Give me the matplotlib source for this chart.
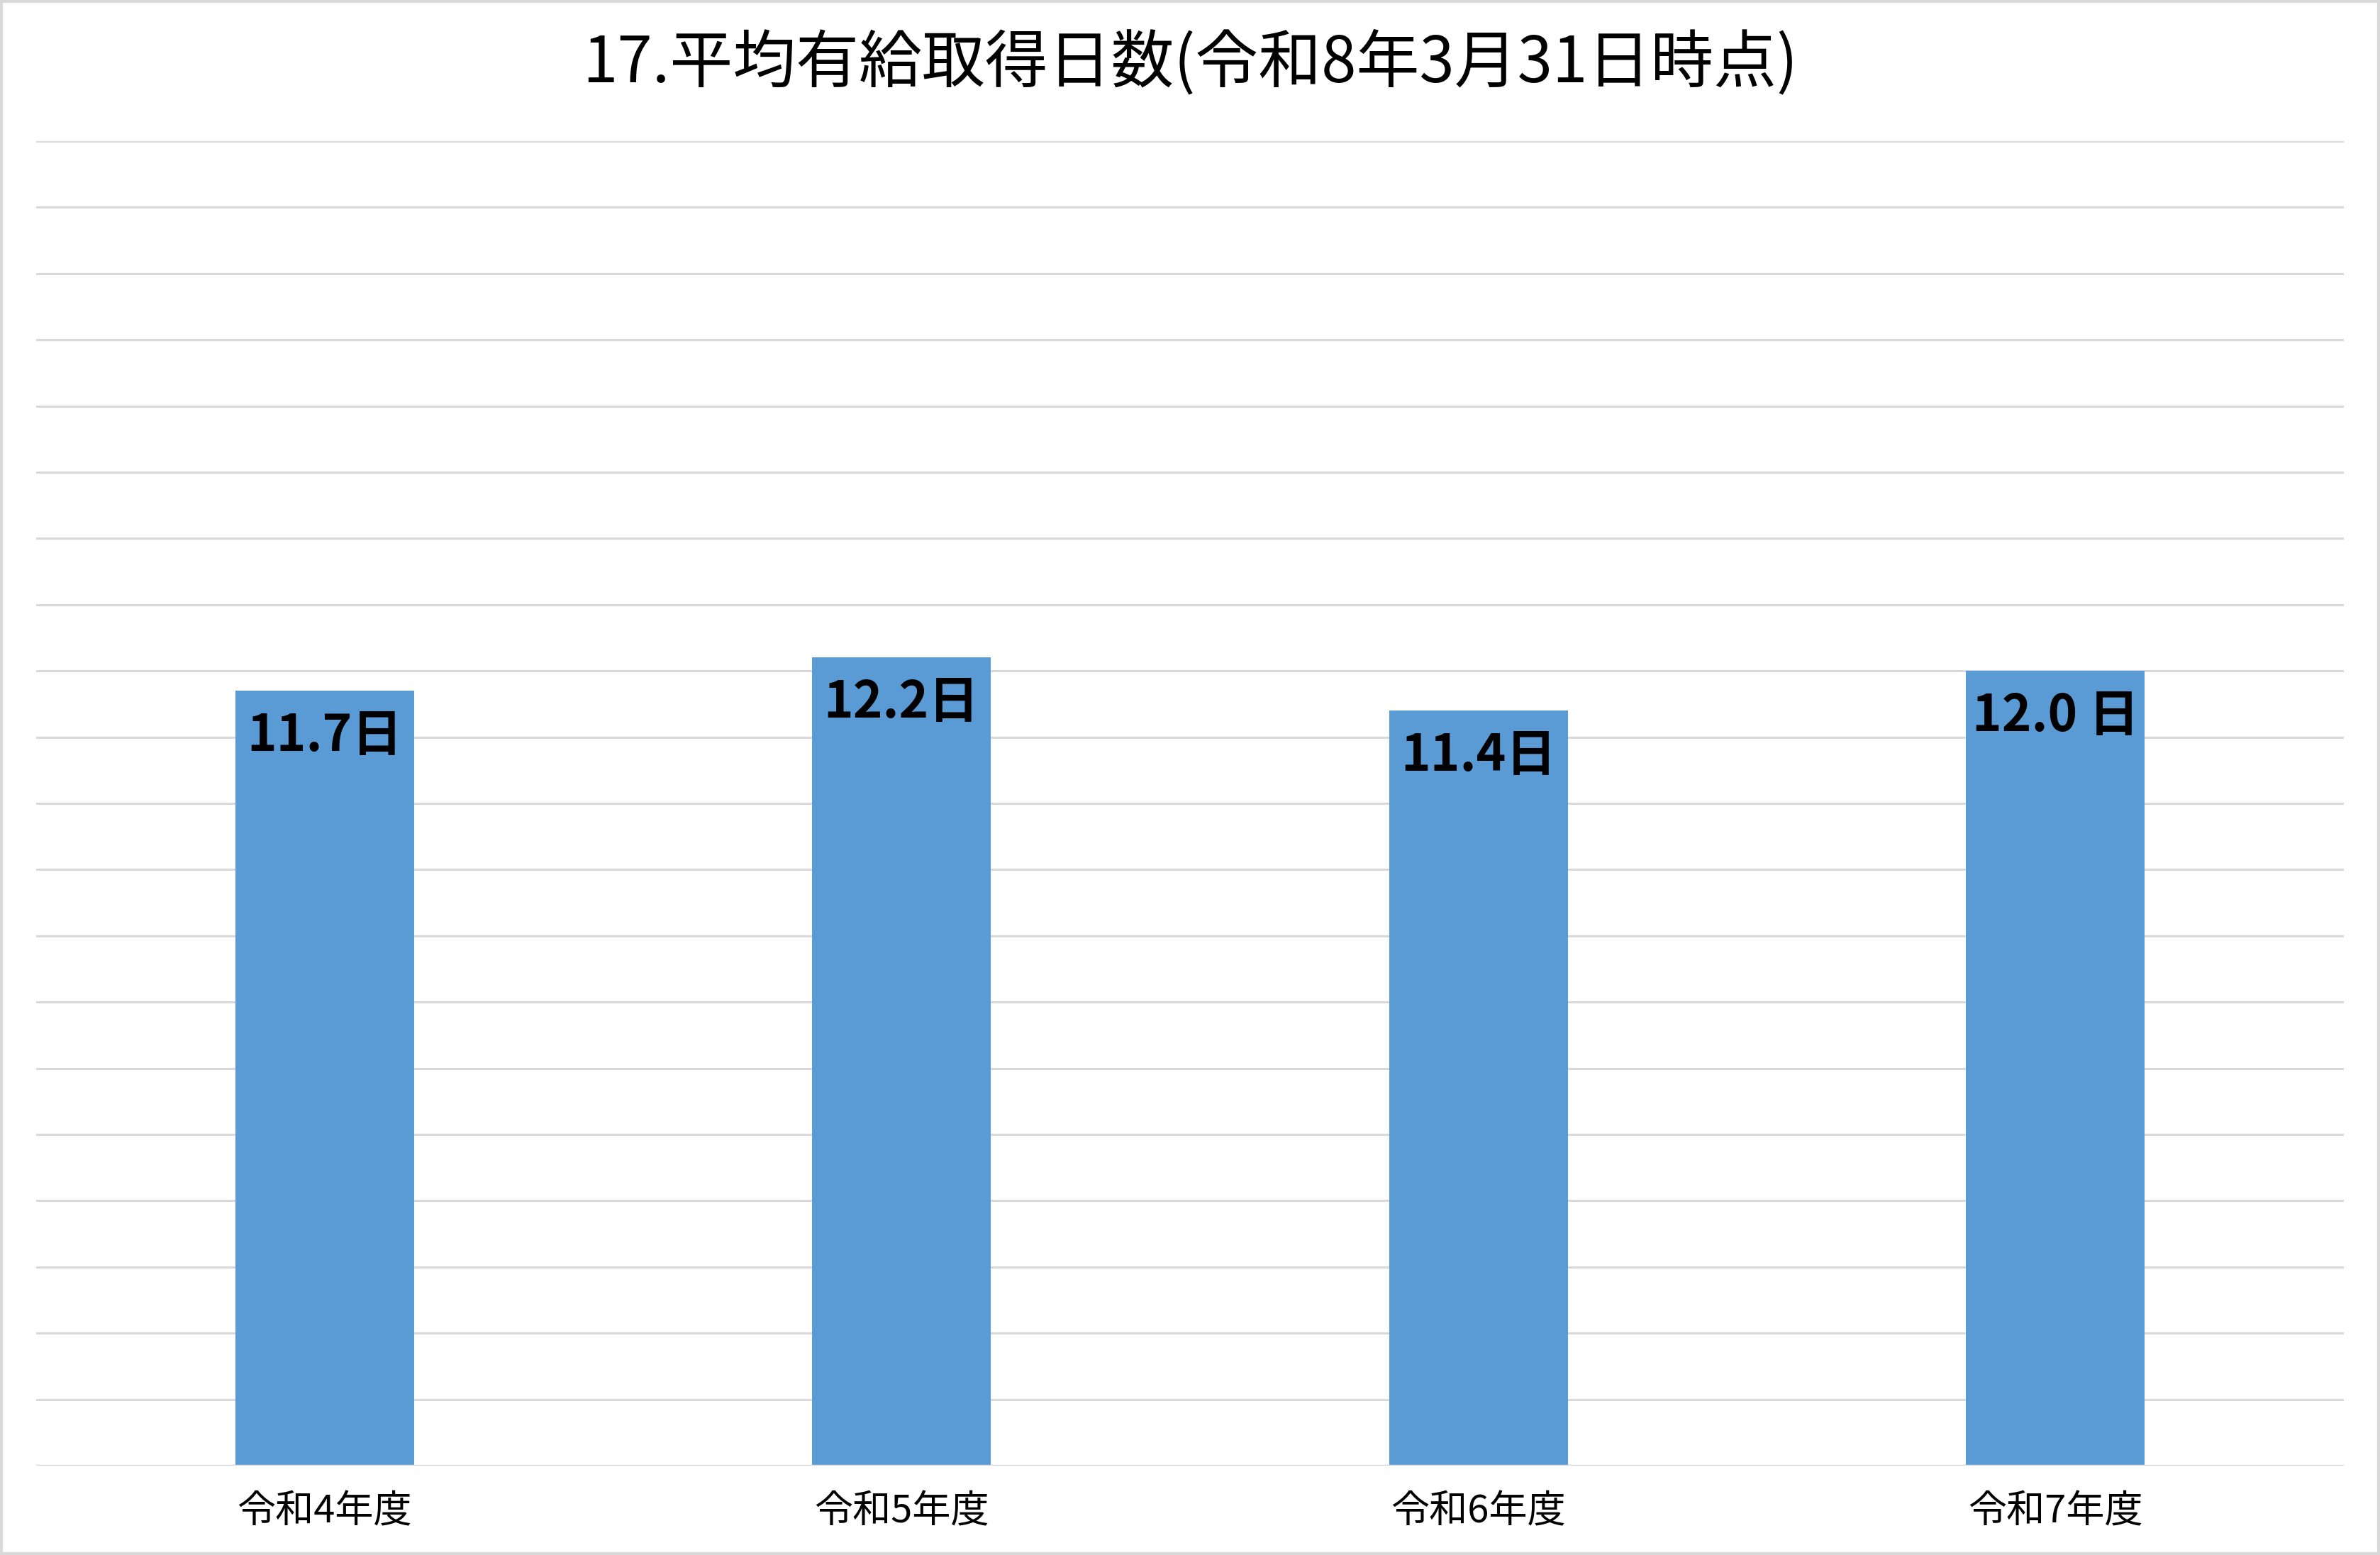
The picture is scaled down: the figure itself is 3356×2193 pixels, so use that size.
import matplotlib.pyplot as plt
from matplotlib.patches import Rectangle

plt.rcParams['font.family'] = ['Noto Sans CJK JP', 'DejaVu Sans']

# data
categories = ["令和4年度", "令和5年度", "令和6年度", "令和7年度"]
days = [11.7, 12.2, 11.4, 12.0]
value_labels = ["11.7日", "12.2日", "11.4日", "12.0 日"]
title = "17.平均有給取得日数(令和8年3月31日時点)"

fig = plt.figure(figsize=(33.56, 21.93), dpi=100)
ax = fig.add_axes([0.0152, 0.0575, 0.9696, 0.8518])

x = range(len(categories))
bars = ax.bar(x, days, width=0.31, color="#5B9BD5", zorder=3)

ax.set_ylim(0, 20)
ax.set_xlim(-0.5, len(categories) - 0.5)
ax.set_yticks(range(0, 21))
ax.yaxis.grid(True, color="#D9D9D9", linewidth=2.2, zorder=0)
ax.axhline(0, color="#D9D9D9", linewidth=2.5, zorder=4)
ax.tick_params(axis="y", left=False, labelleft=False)
ax.tick_params(axis="x", length=0, pad=27, labelsize=39)
ax.set_xticks(list(x))
ax.set_xticklabels(categories)
for s in ax.spines.values():
    s.set_visible(False)

for b, lab in zip(bars, value_labels):
    ax.annotate(lab, (b.get_x() + b.get_width() / 2, b.get_height()),
                xytext=(0, -46), textcoords="offset points",
                ha="center", va="center", fontsize=51, fontweight="bold",
                color="black", zorder=4)

fig.text(0.5, 0.959, title, ha="center", va="center", fontsize=64)

# figure border
fig.patches.append(Rectangle((0.0006, 0.001), 0.9988, 0.998, transform=fig.transFigure,
                             fill=False, edgecolor="#D9D9D9", linewidth=3))

fig.savefig("out.png", dpi=100, facecolor="white")
